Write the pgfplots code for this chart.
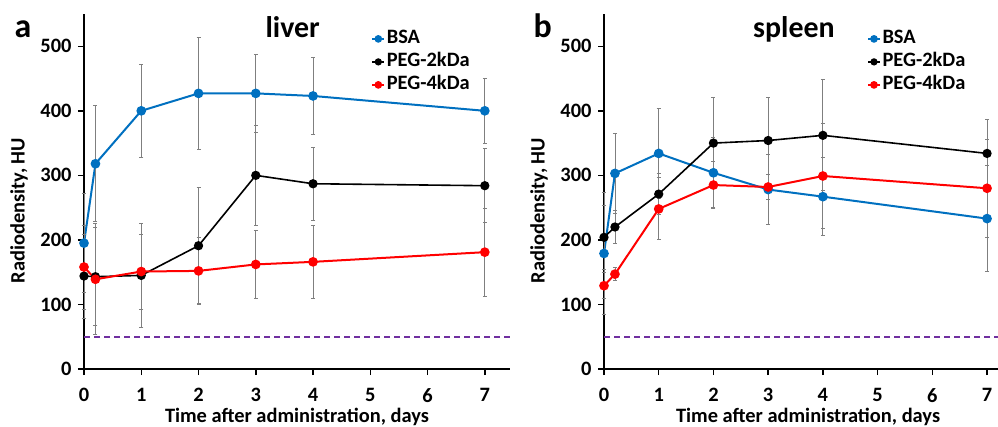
\documentclass[border=0pt]{standalone}
\usepackage{fontspec}
\setmainfont{Carlito}
\usepackage{pgfplots}
\pgfplotsset{compat=1.18}
\definecolor{bsablue}{HTML}{0070C0}
\definecolor{pegred}{HTML}{FF0000}
\definecolor{errgray}{HTML}{7F7F7F}
\definecolor{basepurple}{HTML}{7030A0}
\newcommand{\tickfont}{\bfseries\fontsize{20.5}{24}\selectfont}

\pgfplotsset{
  panel/.style={
    scale only axis, height=355bp,
    xmin=0, ymin=0, ymax=550,
    axis x line*=bottom, axis y line*=left,
    axis line style={line width=1.5bp, black, -},
    xtick={0,1,...,7}, ytick={0,100,...,500},
    tick align=outside, major tick length=6bp,
    tick style={line width=1.5bp, black},
    tick label style={font=\tickfont},
    xticklabel style={yshift=-10bp},
    yticklabel style={xshift=-3bp},
    /pgf/number format/assume math mode=true,
    xlabel={Time after administration, days},
    ylabel={Radiodensity, HU},
    label style={font=\tickfont},
    xlabel style={at={(rel axis cs:0.5,0)}, anchor=base, yshift=-53bp},
    ylabel style={at={(rel axis cs:0,0.446)}, anchor=south, inner sep=0pt, yshift=56bp},
    clip=false,
    legend cell align=left,
    legend style={draw=none, fill=none, font=\tickfont, inner sep=0pt,
      row sep=2bp, anchor=north west,
      nodes={text height=14bp, text depth=4bp, inner sep=1.5bp}},
    legend image code/.code={
      \draw[mark repeat=2, mark phase=2, mark size=2.8bp, #1]
        plot coordinates {(0bp,0bp) (6bp,0bp) (12bp,0bp)};},
  },
  series/.style={mark=*, mark size=3.8bp, line width=2bp,
    error bars/y dir=both, error bars/y explicit,
    error bars/error bar style={line width=0.9bp, draw=errgray, solid},
    error bars/error mark options={rotate=90, mark size=2bp, line width=0.9bp, draw=errgray}},
  baseline/.style={basepurple, line width=1.6bp, dash pattern=on 6bp off 4bp, forget plot},
}

\begin{document}
\begin{tikzpicture}
\useasboundingbox (0,0) rectangle (998bp,427bp);

% panel a: liver
\begin{axis}[panel, width=426bp, xmax=7.44,
  at={(84bp,58bp)}, anchor=south west,
  legend style={at={(rel axis cs:0.674,0.96)}}]
\addplot[baseline] coordinates {(0,50) (7.44,50)};
\addplot[series, bsablue] coordinates {
  (0,195) +- (0,77) (0.2,318) +- (0,90) (1,400) +- (0,72) (2,427) +- (0,87)
  (3,427) +- (0,60) (4,423) +- (0,59) (7,400) +- (0,50)};
\addlegendentry{BSA}
\addplot[series, black, line width=1.6bp] coordinates {
  (0,144) +- (0,65) (0.2,143) +- (0,76) (1,145) +- (0,80) (2,191) +- (0,90)
  (3,300) +- (0,77) (4,287) +- (0,57) (7,284) +- (0,57)};
\addlegendentry{PEG-2kDa}
\addplot[series, pegred] coordinates {
  (0,158) +- (0,65) (0.2,139) +- (0,86) (1,151) +- (0,58) (2,152) +- (0,52)
  (3,162) +- (0,53) (4,166) +- (0,57) (7,181) +- (0,68)};
\addlegendentry{PEG-4kDa}
\node[font=\bfseries\fontsize{30}{36}\selectfont, anchor=base]
  at (rel axis cs:0.49,0.935) {liver};
\end{axis}

% panel b: spleen
\begin{axis}[panel, width=394bp, xmax=7.2,
  at={(604bp,58bp)}, anchor=south west,
  xlabel style={at={(rel axis cs:0.518,0)}},
  legend style={at={(rel axis cs:0.667,0.96)}}]
\addplot[baseline] coordinates {(0,50) (7.2,50)};
\addplot[series, bsablue] coordinates {
  (0,179) +- (0,95) (0.2,303) +- (0,62) (1,334) +- (0,69) (2,304) +- (0,54)
  (3,278) +- (0,54) (4,267) +- (0,60) (7,233) +- (0,82)};
\addlegendentry{BSA}
\addplot[series, black, line width=1.6bp] coordinates {
  (0,204) +- (0,50) (0.2,220) +- (0,25) (1,271) +- (0,32) (2,350) +- (0,70)
  (3,354) +- (0,66) (4,362) +- (0,86) (7,334) +- (0,52)};
\addlegendentry{PEG-2kDa}
\addplot[series, pegred] coordinates {
  (0,129) +- (0,20) (0.2,147) +- (0,10) (1,248) +- (0,48) (2,285) +- (0,36)
  (3,282) +- (0,20) (4,299) +- (0,81) (7,280) +- (0,76)};
\addlegendentry{PEG-4kDa}
\node[font=\bfseries\fontsize{30}{36}\selectfont, anchor=base]
  at (rel axis cs:0.482,0.935) {spleen};
\end{axis}

\node[font=\bfseries\fontsize{34}{40}\selectfont, anchor=base west] at (11bp,389bp) {a};
\node[font=\bfseries\fontsize{34}{40}\selectfont, anchor=base west] at (530bp,389bp) {b};
\end{tikzpicture}
\end{document}
